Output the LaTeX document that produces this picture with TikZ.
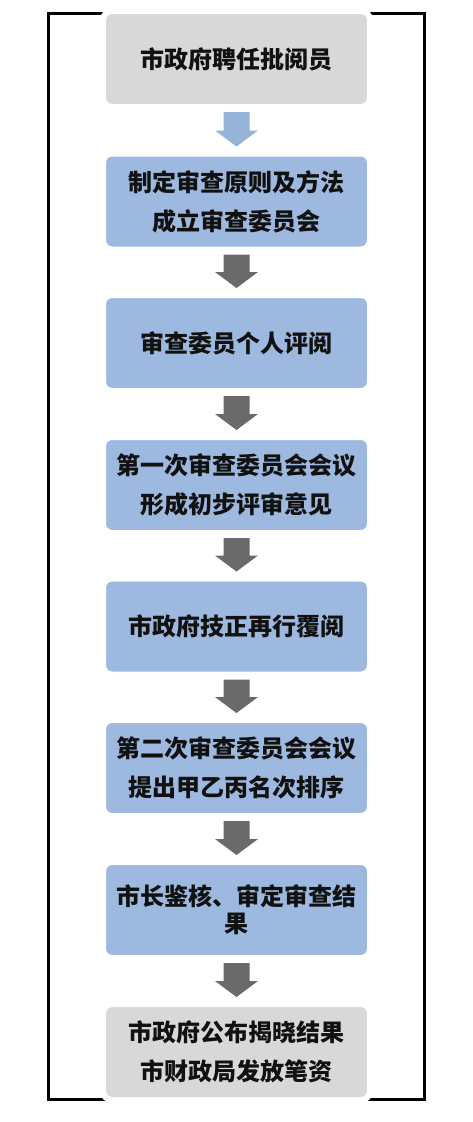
\documentclass[tikz,border=0pt]{standalone}
\usepackage{fontspec}
\newfontfamily\cjk{Noto Sans CJK SC}
\usetikzlibrary{calc}
\definecolor{boxgray}{HTML}{D8D8D8}
\definecolor{boxblue}{HTML}{9DB9DF}
\definecolor{arrowlight}{HTML}{95B3D7}
\definecolor{arrowdark}{HTML}{6A6A6A}
\definecolor{txt}{HTML}{111111}
\tikzset{
  stagebox/.style={rectangle, rounded corners=9pt, draw=white, line width=6pt,
    minimum width=267pt, minimum height=96pt, inner sep=0pt, outer sep=0pt,
    align=center, text=txt, font=\cjk\bfseries\fontsize{24}{39}\selectfont},
  graybox/.style={stagebox, fill=boxgray},
  bluebox/.style={stagebox, fill=boxblue},
  frameline/.style={draw=black, line width=3.2pt},
}
\newcommand{\flowarrow}[3]{%
  \fill[#3] ($(#1.south)+(-13pt,-5pt)$) -- ($(#1.south)+(13pt,-5pt)$)
    -- ($(#2.north)+(13pt,23pt)$) -- ($(#2.north)+(21.5pt,23pt)$)
    -- ($(#2.north)+(0pt,7pt)$) -- ($(#2.north)+(-21.5pt,23pt)$)
    -- ($(#2.north)+(-13pt,23pt)$) -- cycle;}
\begin{document}
\begin{tikzpicture}
\useasboundingbox (0pt,0pt) rectangle (473pt,-1122pt);
\fill[white] (0pt,0pt) rectangle (473pt,-1122pt);
\draw[frameline] (48.5pt,-13.5pt) rectangle (424.7pt,-1099.5pt);
\node[graybox] (b1) at (236.5pt,-59pt) {市政府聘任批阅员};
\node[bluebox] (b2) at (236.5pt,-201.5pt) {制定审查原则及方法\\成立审查委员会};
\node[bluebox] (b3) at (236.5pt,-343pt) {审查委员个人评阅};
\node[bluebox] (b4) at (236.5pt,-485pt) {第一次审查委员会会议\\形成初步评审意见};
\node[bluebox] (b5) at (236.5pt,-626.5pt) {市政府技正再行覆阅};
\node[bluebox] (b6) at (236.5pt,-768pt) {第二次审查委员会会议\\提出甲乙丙名次排序};
\node[bluebox, font=\cjk\bfseries\fontsize{24}{27}\selectfont] (b7) at (236.5pt,-910pt) {市长鉴核、审定审查结\\果};
\node[graybox] (b8) at (236.5pt,-1052pt) {市政府公布揭晓结果\\市财政局发放笔资};
\flowarrow{b1}{b2}{arrowlight}
\flowarrow{b2}{b3}{arrowdark}
\flowarrow{b3}{b4}{arrowdark}
\flowarrow{b4}{b5}{arrowdark}
\flowarrow{b5}{b6}{arrowdark}
\flowarrow{b6}{b7}{arrowdark}
\flowarrow{b7}{b8}{arrowdark}
\end{tikzpicture}
\end{document}
